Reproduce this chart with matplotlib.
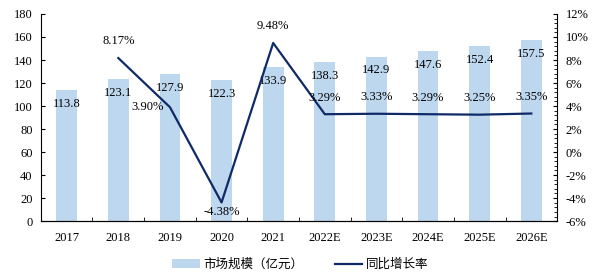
import matplotlib
matplotlib.use("Agg")
import matplotlib.pyplot as plt
import matplotlib.ticker as ticker
from matplotlib.patches import Patch
from matplotlib.lines import Line2D

years = ["2017", "2018", "2019", "2020", "2021", "2022E", "2023E", "2024E", "2025E", "2026E"]
market = [113.8, 123.1, 127.9, 122.3, 133.9, 138.3, 142.9, 147.6, 152.4, 157.5]
growth_years = years[1:]
growth = [8.17, 3.90, -4.38, 9.48, 3.29, 3.33, 3.29, 3.25, 3.35]

BAR_COLOR = "#BDD7EE"
LINE_COLOR = "#0F2A66"
SERIF = ["Liberation Serif", "DejaVu Serif"]
CJK = ["Noto Sans CJK SC", "DejaVu Sans"]

plt.rcParams["font.family"] = SERIF
plt.rcParams["font.size"] = 9

fig = plt.figure(figsize=(6.01, 2.74), dpi=100)
ax = fig.add_axes([0.068, 0.193, 0.859, 0.756])
x = list(range(len(years)))

ax.bar(x, market, width=0.4, color=BAR_COLOR, zorder=1)
for xi, v in zip(x, market):
    ax.text(xi, v - 12, f"{v:.1f}", ha="center", va="center", fontsize=9, zorder=3)

ax.set_xlim(-0.5, len(years) - 0.5)
ax.set_ylim(0, 180)
ax.yaxis.set_major_locator(ticker.MultipleLocator(20))
ax.set_xticks(x)
ax.set_xticklabels(years)
ax.set_xticks([i + 0.5 for i in x[:-1]], minor=True)
ax.tick_params(axis="x", which="major", length=0, pad=8)
ax.tick_params(axis="x", which="minor", direction="in", length=3)
ax.tick_params(axis="y", direction="in", length=3, pad=6)
ax.spines["top"].set_visible(False)
ax.spines["right"].set_visible(False)

ax2 = ax.twinx()
gx = [years.index(y) for y in growth_years]
ax2.plot(gx, growth, color=LINE_COLOR, lw=1.6, zorder=4)
ax2.set_ylim(-6, 12)
ax2.yaxis.set_major_locator(ticker.MultipleLocator(2))
ax2.yaxis.set_minor_locator(ticker.AutoMinorLocator(5))
ax2.yaxis.set_major_formatter(ticker.FuncFormatter(lambda v, p: f"{v:.0f}%"))
ax2.tick_params(axis="y", which="major", direction="in", length=3, pad=6)
ax2.tick_params(axis="y", which="minor", direction="in", length=2)
ax2.spines["top"].set_visible(False)
ax2.spines["left"].set_visible(False)

offsets = {0: (0, 12), 1: (-16, 0), 2: (0, -7), 3: (0, 12), 4: (0, 12),
           5: (0, 12), 6: (0, 12), 7: (0, 12), 8: (0, 12)}
for i, (xi, g) in enumerate(zip(gx, growth)):
    ax2.annotate(f"{g:.2f}%", (xi, g), xytext=offsets[i], textcoords="offset points",
                 ha="center", va="center", fontsize=9, zorder=5)

handles = [Patch(facecolor=BAR_COLOR, edgecolor="none"),
           Line2D([0], [0], color=LINE_COLOR, lw=1.6)]
fig.legend(handles, ["市场规模（亿元）", "同比增长率"], loc="center",
           bbox_to_anchor=(0.5, 0.035), ncol=2, frameon=False,
           prop={"family": CJK, "size": 9}, handlelength=2.2, columnspacing=2.5,
           handletextpad=0.3)

fig.savefig("out.png", dpi=100)
